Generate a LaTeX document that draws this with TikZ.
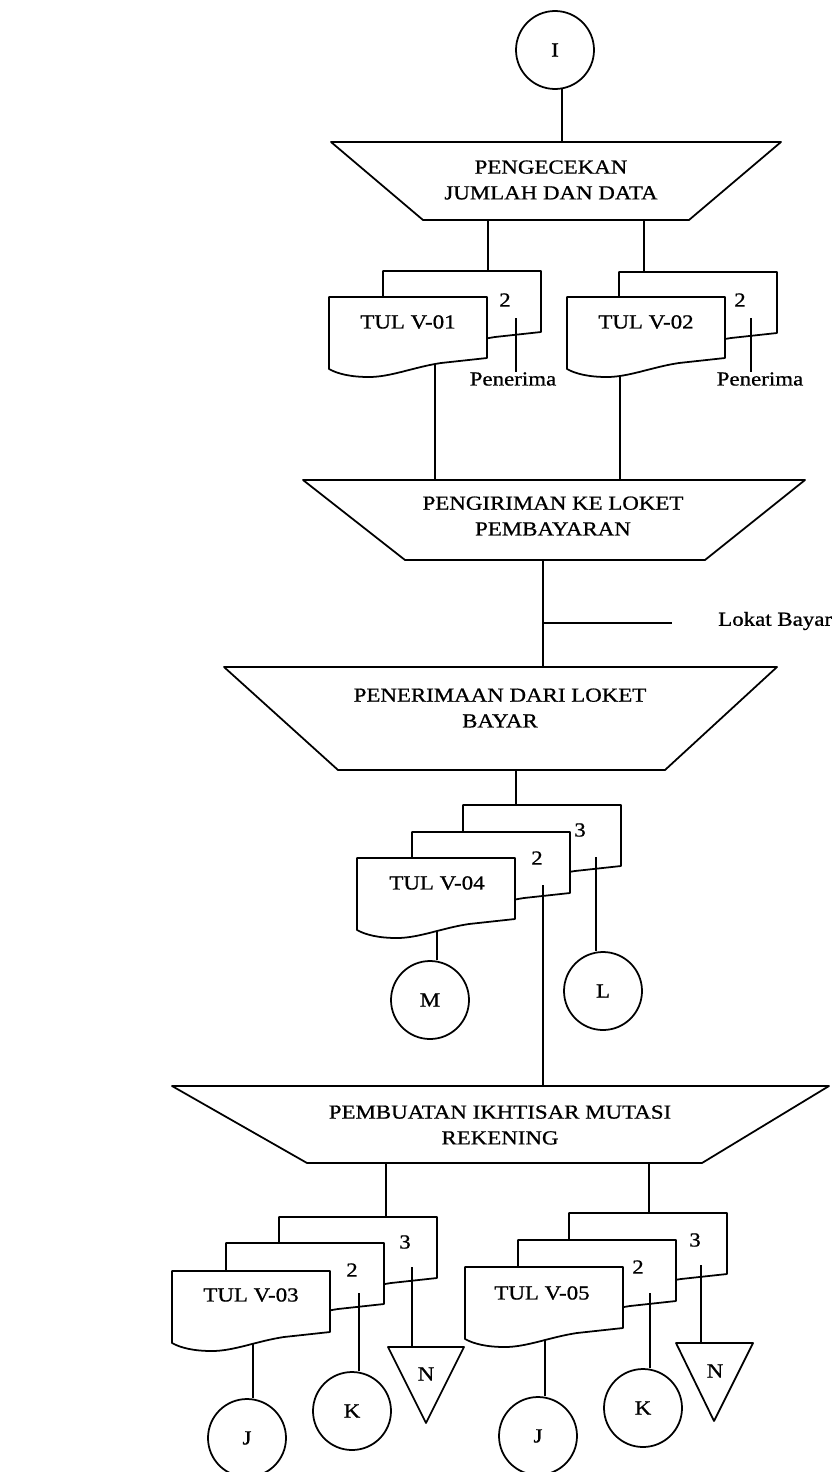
\documentclass[tikz,border=0pt]{standalone}
\usepackage{fontspec}
\setmainfont{Liberation Serif}[FakeStretch=1.15,FakeBold=0.8]
\newcommand\mydoc[2]{\begin{scope}[shift={(#1,#2)}]\draw[ln,fill=white] (0,0) -- (158,0) -- (158,61) -- (112,66) .. controls (85,70) and (62,80) .. (40,80) .. controls (22,80) and (9,77) .. (0,72) -- cycle;\end{scope}}
\begin{document}
\begin{tikzpicture}[x=0.3mm,y=-0.3mm,
  every node/.style={font=\fontsize{17}{22}\selectfont, inner sep=0pt},
  ln/.style={line width=1.5pt, line join=round},
  cn/.style={line width=1.5pt},
  circ/.style={draw, circle, line width=1.5pt, minimum size=23.4mm, inner sep=0pt},
  ttext/.style={align=center}]
\useasboundingbox (0,0) rectangle (834,1472);
\fill[white] (0,0) rectangle (834,1472);

% ---------- top connector and first process
\node[circ] (I) at (555,50) {I};
\draw[ln] (331,142) -- (781,142) -- (689,220) -- (423,220) -- cycle;
\coordinate (t1n) at (556,142);
\coordinate (t1s) at (556,220);
\node[ttext] (t1) at (551,180) {PENGECEKAN\\JUMLAH DAN DATA};
\draw[cn] (I.-80) -- (I.-80 |- t1n);

% ---------- TUL V-01 / V-02
\coordinate (d1top) at (488,271);
\coordinate (d2top) at (644,272);
\draw[cn] (d1top |- t1s) -- (d1top);
\draw[cn] (d2top |- t1s) -- (d2top);
\coordinate (t2n) at (554,480);
\coordinate (d1bot) at (435,340);
\coordinate (d2bot) at (620,340);
\draw[cn] (d1bot) -- (d1bot |- t2n);
\draw[cn] (d2bot) -- (d2bot |- t2n);
\mydoc{383}{271}\mydoc{329}{297}
\mydoc{619}{272}\mydoc{567}{297}
\node (v1) at (408,322) {TUL V-01};
\node (v2) at (646,322) {TUL V-02};
\node (c12) at (505,300) {2};
\node (c22) at (740,300) {2};
\coordinate (p1) at (516,318);
\coordinate (p2) at (751,318);
\node (pen1) at (513,379) {Penerima};
\node (pen2) at (760,379) {Penerima};
\draw[cn] (p1) -- (p1 |- pen1.north);
\draw[cn] (p2) -- (p2 |- pen2.north);

% ---------- second process
\draw[ln] (303,480) -- (805,480) -- (705,560) -- (405,560) -- cycle;
\node[ttext] (t2) at (553,516) {PENGIRIMAN KE LOKET\\PEMBAYARAN};
\coordinate (t2s) at (543,560);
\coordinate (t3n) at (543,667);
\draw[cn] (t2s) -- (t3n);
\coordinate (br) at (543,623);
\coordinate (bre) at (672,623);
\draw[cn] (br) -- (bre);
\node[anchor=west] (lb) at (718,621) {Lokat Bayar};

% ---------- third process
\draw[ln] (224,667) -- (777,667) -- (665,770) -- (338,770) -- cycle;
\node[ttext] (t3) at (500,708) {PENERIMAAN DARI LOKET\\BAYAR};
\coordinate (t3s) at (516,770);
\coordinate (d4top) at (516,805);
\draw[cn] (t3s) -- (d4top);

% ---------- TUL V-04
\coordinate (d4bot) at (437,900);
\node[circ] (M) at (430,1000) {M};
\draw[cn] (d4bot) -- (d4bot |- M.north);
\mydoc{463}{805}\mydoc{412}{832}\mydoc{357}{858}
\node (v4) at (437,883) {TUL V-04};
\node (c43n) at (580,830) {3};
\node (c42n) at (537,858) {2};
\coordinate (c42) at (543,885);
\coordinate (t4n) at (543,1086);
\draw[cn] (c42) -- (t4n);
\coordinate (c43) at (596,857);
\node[circ] (L) at (603,991) {L};
\draw[cn] (c43) -- (c43 |- L.north);

% ---------- fourth process
\draw[ln] (172,1086) -- (829,1086) -- (702,1163) -- (307,1163) -- cycle;
\node[ttext] (t4) at (500,1125) {PEMBUATAN IKHTISAR MUTASI\\REKENING};
\coordinate (t4s) at (500,1163);

% ---------- TUL V-03
\coordinate (d3top) at (386,1217);
\draw[cn] (d3top |- t4s) -- (d3top);
\coordinate (d3bot) at (253,1320);
\node[circ] (J1) at (247,1438) {J};
\draw[cn] (d3bot) -- (d3bot |- J1.north);
\mydoc{279}{1217}\mydoc{226}{1243}\mydoc{172}{1271}
\node (v3) at (251,1295) {TUL V-03};
\node (c33n) at (405,1242) {3};
\node (c32n) at (352,1270) {2};
\coordinate (c32) at (359,1293);
\node[circ] (K1) at (352,1411) {K};
\draw[cn] (c32) -- (c32 |- K1.north);
\coordinate (c33) at (412,1267);
\coordinate (n1top) at (412,1347);
\draw[cn] (c33) -- (n1top);
\draw[ln] (388,1347) -- (464,1347) -- (426,1423) -- cycle;
\node (N1) at (426,1374) {N};

% ---------- TUL V-05
\coordinate (d5top) at (649,1213);
\draw[cn] (d5top |- t4s) -- (d5top);
\coordinate (d5bot) at (545,1320);
\node[circ] (J2) at (538,1436) {J};
\draw[cn] (d5bot) -- (d5bot |- J2.north);
\mydoc{569}{1213}\mydoc{518}{1240}\mydoc{465}{1267}
\node (v5) at (542,1293) {TUL V-05};
\node (c53n) at (695,1240) {3};
\node (c52n) at (638,1267) {2};
\coordinate (c52) at (650,1293);
\node[circ] (K2) at (643,1408) {K};
\draw[cn] (c52) -- (c52 |- K2.north);
\coordinate (c53) at (701,1265);
\coordinate (n2top) at (701,1343);
\draw[cn] (c53) -- (n2top);
\draw[ln] (676,1343) -- (753,1343) -- (714,1421) -- cycle;
\node (N2) at (715,1371) {N};
\end{tikzpicture}
\end{document}
